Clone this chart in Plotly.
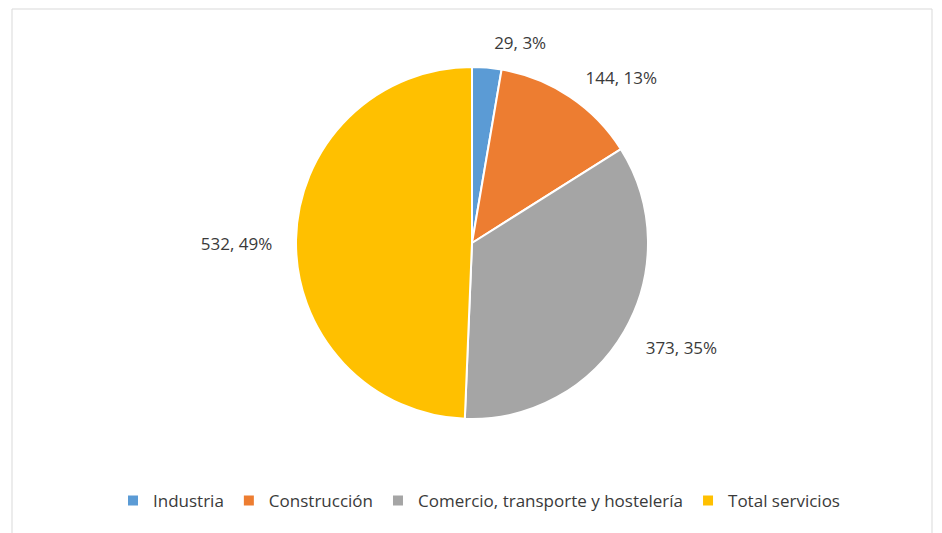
import plotly.graph_objects as go

categories = ["Industria", "Construcción", "Comercio, transporte y hostelería", "Total servicios"]
values = [29, 144, 373, 532]
colors = ["#5B9BD5", "#ED7D31", "#A5A5A5", "#FFC000"]

W, H = 942, 533
FONT = "Open Sans, Lato, Liberation Sans, sans-serif"

# page body has an 8px margin, so paper coordinates are offset by 8px
cx, cy, r = 464, 235, 176
r_lab = 194

def dom(rad, dy=0):
    return dict(x=[(cx - rad) / W, (cx + rad) / W],
                y=[1 - (cy + dy + rad) / H, 1 - (cy + dy - rad) / H])

fig = go.Figure()
fig.add_trace(go.Pie(
    labels=categories,
    values=values,
    sort=False,
    direction="clockwise",
    rotation=0,
    marker=dict(colors=colors, line=dict(color="white", width=2)),
    textinfo="none",
    hoverinfo="label+value+percent",
    domain=dom(r),
))
# label-carrying transparent ring, same data, slightly larger radius
fig.add_trace(go.Pie(
    labels=categories,
    values=values,
    sort=False,
    direction="clockwise",
    rotation=0,
    marker=dict(colors=["rgba(0,0,0,0)"] * len(values), line=dict(width=0)),
    texttemplate="%{value}, %{percent:.0%}",
    textposition="outside",
    textfont=dict(family=FONT, size=17, color="#3A3A3A"),
    hoverinfo="skip",
    showlegend=False,
    domain=dom(r_lab, dy=4),
))

fig.update_layout(
    width=W, height=H,
    margin=dict(l=0, r=0, t=0, b=0),
    paper_bgcolor="white",
    plot_bgcolor="white",
    showlegend=True,
    legend=dict(
        orientation="h",
        x=0.5, xanchor="center",
        y=1 - 493 / H, yanchor="middle",
        font=dict(family=FONT, size=17, color="#3A3A3A"),
        traceorder="normal",
    ),
    shapes=[dict(
        type="rect", xref="paper", yref="paper",
        x0=4 / W, x1=924 / W, y0=-0.05, y1=1 - 1 / H,
        line=dict(color="#D9D9D9", width=1), fillcolor="rgba(0,0,0,0)",
        layer="below",
    )],
)

fig.write_html("out.html")
